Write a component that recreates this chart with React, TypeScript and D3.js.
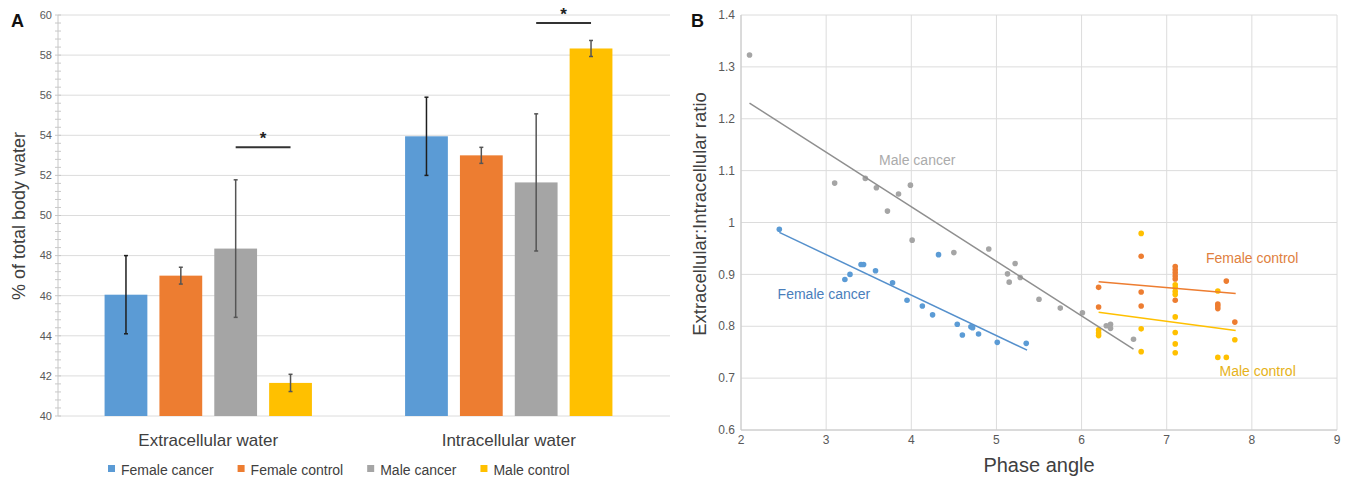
import React, { useEffect, useRef } from 'react';
import * as d3 from 'd3';

// panel A: % of total body water
const groups = ['Extracellular water', 'Intracellular water'];
const series = ['Female cancer', 'Female control', 'Male cancer', 'Male control'];
const extraMeans = [46.05, 47.0, 48.35, 41.65];
const extraErr = [1.95, 0.42, 3.43, 0.43];
const intraMeans = [53.95, 53.0, 51.65, 58.33];
const intraErr = [1.95, 0.4, 3.42, 0.4];
const sigLevels = [53.4, 59.6]; // bracket between male cancer and male control
const pctTicks = [40, 42, 44, 46, 48, 50, 52, 54, 56, 58, 60];

// panel B: phase angle vs ECW:ICW ratio
const femaleCancerPts = [
  [2.45, 0.987], [3.22, 0.89], [3.28, 0.9], [3.41, 0.919], [3.44, 0.919], [3.58, 0.907],
  [3.78, 0.884], [3.95, 0.85], [4.13, 0.839], [4.25, 0.822], [4.32, 0.938], [4.54, 0.804],
  [4.6, 0.783], [4.7, 0.799], [4.72, 0.797], [4.79, 0.785], [5.01, 0.769], [5.35, 0.767],
];
const femaleControlPts = [
  [6.2, 0.875], [6.2, 0.837], [6.7, 0.935], [6.7, 0.866], [6.7, 0.839],
  [7.1, 0.915], [7.1, 0.909], [7.1, 0.903], [7.1, 0.897], [7.1, 0.891], [7.1, 0.85],
  [7.6, 0.843], [7.6, 0.839], [7.6, 0.834], [7.7, 0.887], [7.8, 0.808],
];
const maleCancerPts = [
  [2.1, 1.323], [3.1, 1.076], [3.46, 1.085], [3.59, 1.067], [3.72, 1.022], [3.85, 1.055],
  [3.99, 1.072], [4.01, 0.966], [4.5, 0.942], [4.91, 0.949], [5.13, 0.901], [5.15, 0.885],
  [5.22, 0.921], [5.28, 0.894], [5.5, 0.852], [5.75, 0.835], [6.01, 0.826], [6.29, 0.801],
  [6.34, 0.804], [6.34, 0.796], [6.61, 0.775],
];
const maleControlPts = [
  [6.2, 0.793], [6.2, 0.787], [6.2, 0.782], [6.7, 0.979], [6.7, 0.795], [6.7, 0.751],
  [7.1, 0.88], [7.1, 0.874], [7.1, 0.867], [7.1, 0.861], [7.1, 0.818], [7.1, 0.788],
  [7.1, 0.766], [7.1, 0.749], [7.6, 0.868], [7.6, 0.74], [7.7, 0.74], [7.8, 0.774],
];
// linear trend lines (start / end)
const femaleCancerTrend = [[2.45, 0.981], [5.36, 0.754]];
const femaleControlTrend = [[6.2, 0.886], [7.81, 0.863]];
const maleCancerTrend = [[2.1, 1.23], [6.61, 0.756]];
const maleControlTrend = [[6.2, 0.827], [7.81, 0.792]];
const phaseTicks = [2, 3, 4, 5, 6, 7, 8, 9];
const ratioTicks = [0.6, 0.7, 0.8, 0.9, 1, 1.1, 1.2, 1.3, 1.4];
// where the series names sit, in data units
const labelAnchors = [[2.43, 0.862], [7.46, 0.932], [4.07, 1.12], [7.62, 0.714]];

const colors = ['#5b9bd5', '#ed7d31', '#a5a5a5', '#ffc000'];
const trendColors = ['#5590cc', '#ed7d31', '#8f8f8f', '#ffc000'];
const labelColors = ['#4a7ebb', '#e0803e', '#ababab', '#e6b219'];
const errColors = ['#1e1e1e', '#555', '#555', '#555'];
const FONT = '"Liberation Sans", Arial, sans-serif';

function Chart() {
  const svgRef = useRef(null);

  useEffect(() => {
    const svg = d3.select(svgRef.current);
    svg.selectAll('*').remove();
    svg.attr('font-family', FONT);

    // ---------- panel A ----------
    const y = d3.scaleLinear().domain([40, 60]).range([416, 15]);
    const x0 = d3.scaleBand().domain(groups).range([58, 659]).paddingInner(0.31).paddingOuter(0.155);
    const x1 = d3.scaleBand().domain(series).range([0, x0.bandwidth()]).paddingInner(0.22);

    const a = svg.append('g');
    a.selectAll('line.grid').data(pctTicks).join('line')
      .attr('x1', 58).attr('x2', 670)
      .attr('y1', d => y(d)).attr('y2', d => y(d))
      .attr('stroke', '#dcdcdc').attr('stroke-width', 1);
    a.append('line').attr('x1', 58).attr('x2', 58).attr('y1', y(60)).attr('y2', y(40))
      .attr('stroke', '#c8c8c8');
    a.selectAll('line.minor').data(d3.range(40, 60.01, 0.4)).join('line')
      .attr('x1', 55).attr('x2', 61)
      .attr('y1', d => y(d)).attr('y2', d => y(d))
      .attr('stroke', '#c8c8c8');
    a.selectAll('text.tick').data(pctTicks).join('text')
      .attr('x', 52).attr('y', d => y(d)).attr('dy', '0.35em')
      .attr('text-anchor', 'end').attr('font-size', 11).attr('fill', '#595959')
      .text(d => d);

    const rows = [extraMeans, intraMeans];
    const errs = [extraErr, intraErr];
    groups.forEach((g, gi) => {
      const gg = a.append('g').attr('transform', `translate(${x0(g)},0)`);
      series.forEach((s, si) => {
        const v = rows[gi][si];
        const e = errs[gi][si];
        const cx = x1(s) + x1.bandwidth() / 2;
        gg.append('rect')
          .attr('x', x1(s)).attr('width', x1.bandwidth())
          .attr('y', y(v)).attr('height', y(40) - y(v))
          .attr('fill', colors[si]);
        const eg = gg.append('g').attr('stroke', errColors[si]).attr('stroke-width', 1.5);
        eg.append('line').attr('x1', cx).attr('x2', cx).attr('y1', y(v + e)).attr('y2', y(v - e));
        eg.append('line').attr('x1', cx - 2).attr('x2', cx + 2).attr('y1', y(v + e)).attr('y2', y(v + e));
        eg.append('line').attr('x1', cx - 2).attr('x2', cx + 2).attr('y1', y(v - e)).attr('y2', y(v - e));
      });
      const xa = x1('Male cancer') + x1.bandwidth() / 2;
      const xb = x1('Male control') + x1.bandwidth() / 2;
      gg.append('line').attr('x1', xa).attr('x2', xb)
        .attr('y1', y(sigLevels[gi])).attr('y2', y(sigLevels[gi]))
        .attr('stroke', '#333').attr('stroke-width', 2);
      gg.append('text').attr('x', (xa + xb) / 2).attr('y', y(sigLevels[gi]) - 3)
        .attr('text-anchor', 'middle').attr('font-size', 17).attr('font-weight', 'bold')
        .attr('fill', '#222').text('*');
      a.append('text')
        .attr('x', x0(g) + x0.bandwidth() / 2).attr('y', 446)
        .attr('text-anchor', 'middle').attr('font-size', 17).attr('fill', '#404040')
        .text(g);
    });

    a.append('text')
      .attr('transform', 'translate(25,216) rotate(-90)')
      .attr('text-anchor', 'middle').attr('font-size', 18).attr('fill', '#404040')
      .text('% of total body water');
    a.append('text').attr('x', 11).attr('y', 27).attr('font-size', 18).attr('font-weight', 'bold')
      .attr('fill', '#111').text('A');

    // legend
    let lx = 108;
    series.forEach((s, i) => {
      a.append('rect').attr('x', lx).attr('y', 465).attr('width', 7).attr('height', 7).attr('fill', colors[i]);
      const t = a.append('text').attr('x', lx + 13).attr('y', 475)
        .attr('font-size', 14).attr('fill', '#404040').text(s);
      const w = t.node().getComputedTextLength();
      lx += 13 + w + 24;
    });

    // ---------- panel B ----------
    const xs = d3.scaleLinear().domain([2, 9]).range([741, 1337]);
    const ys = d3.scaleLinear().domain([0.6, 1.4]).range([430, 15]);
    const b = svg.append('g');

    b.selectAll('line.vgrid').data(phaseTicks).join('line')
      .attr('x1', d => xs(d)).attr('x2', d => xs(d)).attr('y1', ys(1.4)).attr('y2', ys(0.6))
      .attr('stroke', '#dcdcdc');
    b.selectAll('line.hgrid').data(ratioTicks).join('line')
      .attr('x1', xs(2)).attr('x2', xs(9)).attr('y1', d => ys(d)).attr('y2', d => ys(d))
      .attr('stroke', '#dcdcdc');
    b.append('line').attr('x1', xs(2)).attr('x2', xs(2)).attr('y1', ys(1.4)).attr('y2', ys(0.6))
      .attr('stroke', '#c8c8c8');
    b.append('line').attr('x1', xs(2)).attr('x2', xs(9)).attr('y1', ys(0.6)).attr('y2', ys(0.6))
      .attr('stroke', '#c8c8c8');

    b.selectAll('text.ytick').data(ratioTicks).join('text')
      .attr('x', 735).attr('y', d => ys(d)).attr('dy', '0.35em')
      .attr('text-anchor', 'end').attr('font-size', 12).attr('fill', '#595959')
      .text(d => d3.format('~g')(d));
    b.selectAll('text.xtick').data(phaseTicks).join('text')
      .attr('x', d => xs(d)).attr('y', 444)
      .attr('text-anchor', 'middle').attr('font-size', 12).attr('fill', '#595959')
      .text(d => d);

    const pts = [femaleCancerPts, femaleControlPts, maleCancerPts, maleControlPts];
    const trends = [femaleCancerTrend, femaleControlTrend, maleCancerTrend, maleControlTrend];
    const line = d3.line().x(d => xs(d[0])).y(d => ys(d[1]));

    pts.forEach((p, i) => {
      b.append('g').selectAll('circle').data(p).join('circle')
        .attr('cx', d => xs(d[0])).attr('cy', d => ys(d[1])).attr('r', 2.8)
        .attr('fill', colors[i]);
    });
    trends.forEach((t, i) => {
      b.append('path').datum(t).attr('d', line)
        .attr('fill', 'none').attr('stroke', trendColors[i]).attr('stroke-width', 1.5);
    });
    series.forEach((s, i) => {
      const [ax, ay] = labelAnchors[i];
      b.append('text').attr('x', xs(ax)).attr('y', ys(ay)).attr('dy', '0.35em')
        .attr('text-anchor', i === 2 ? 'middle' : 'start')
        .attr('font-size', 14).attr('fill', labelColors[i]).text(s);
    });

    b.append('text').attr('x', (xs(2) + xs(9)) / 2).attr('y', 472)
      .attr('text-anchor', 'middle').attr('font-size', 20).attr('fill', '#404040')
      .text('Phase angle');
    b.append('text')
      .attr('transform', 'translate(706,214) rotate(-90)')
      .attr('text-anchor', 'middle').attr('font-size', 18.5).attr('fill', '#404040')
      .text('Extracellular:Intracellular ratio');
    b.append('text').attr('x', 691).attr('y', 27).attr('font-size', 18).attr('font-weight', 'bold')
      .attr('fill', '#111').text('B');
  }, []);

  return (
    <svg ref={svgRef} width={1354} height={477}
      style={{ position: 'absolute', left: 0, top: 0, background: '#fff' }} />
  );
}

export default function App() {
  return <Chart />;
}
